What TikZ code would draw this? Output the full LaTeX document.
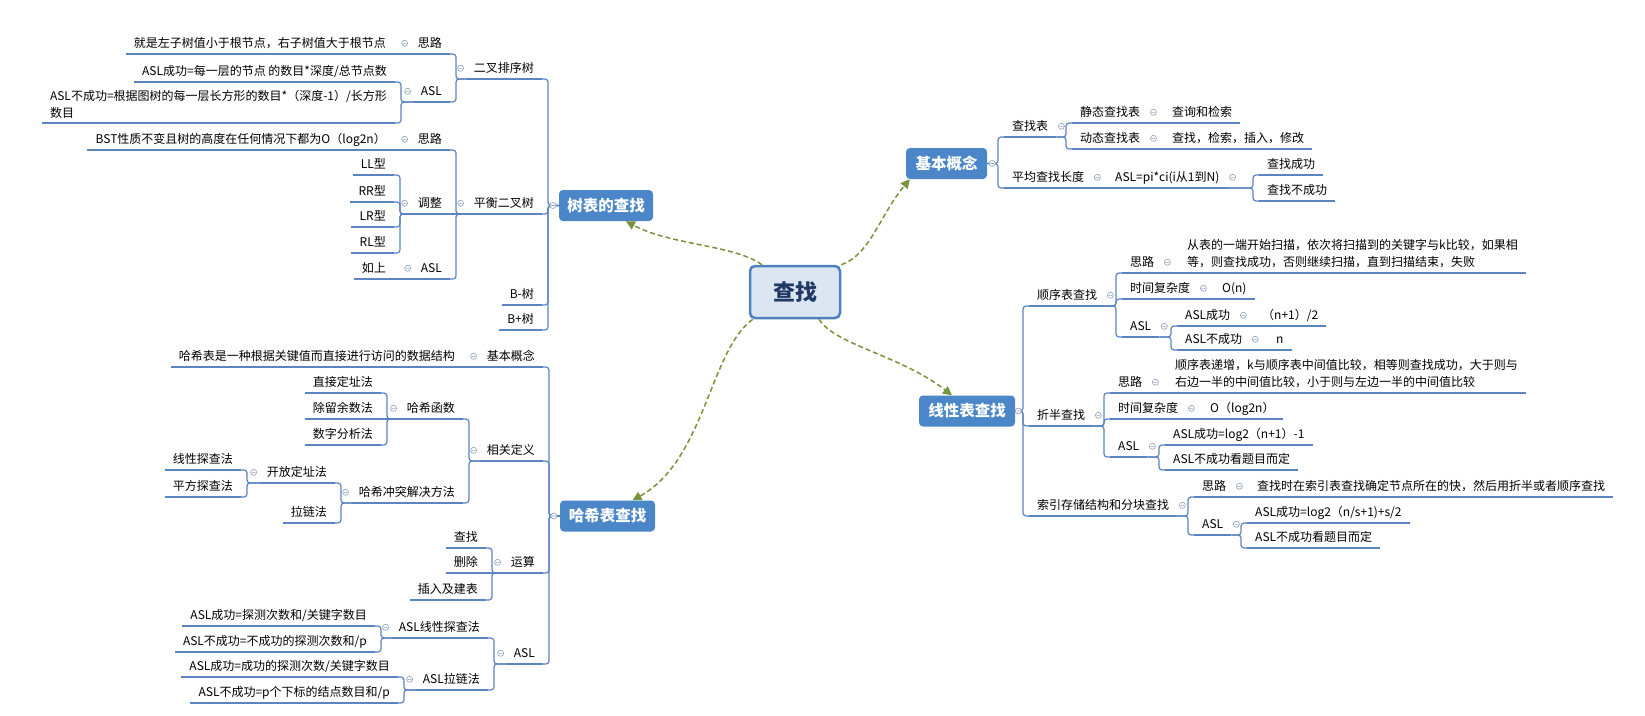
\documentclass[tikz,border=0pt]{standalone}
\usepackage{fontspec}
\setmainfont{Noto Sans CJK SC}
\usetikzlibrary{arrows.meta}
\definecolor{lineblue}{RGB}{92,132,194}
\definecolor{topicblue}{RGB}{74,134,200}
\definecolor{rootfill}{RGB}{220,230,242}
\definecolor{rootedge}{RGB}{79,129,189}
\definecolor{roottext}{RGB}{31,56,100}
\definecolor{linkgreen}{RGB}{119,147,60}
\definecolor{foldgrey}{RGB}{140,158,190}
\tikzset{
  leaf/.style={inner xsep=8pt, inner ysep=4.6pt, text height=10.4pt, text depth=1.4pt,
    font=\fontsize{12}{17}\selectfont,
    append after command={(\tikzlastnode.south west) edge[uline] (\tikzlastnode.south east)}},
  multi/.style={leaf, align=left, text height={}, text depth={}},
  lnode/.style={leaf, anchor=south east},
  rnode/.style={leaf, anchor=south west},
  uline/.style={draw=lineblue, line width=1.8pt},
  conn/.style={draw=lineblue, line width=1.2pt, rounded corners=3pt},
  topic/.style={fill=topicblue, rounded corners=4pt, text=white, inner sep=0pt,
    font=\fontsize{15.5}{18}\selectfont\bfseries, minimum height=31pt},
  root/.style={fill=rootfill, draw=rootedge, line width=2.5pt, rounded corners=5pt,
    text=roottext, font=\fontsize{22}{26}\selectfont\bfseries,
    minimum width=90pt, minimum height=52pt},
  link/.style={draw=linkgreen, line width=1.5pt, dash pattern=on 5pt off 3pt,
    -{Triangle[length=9pt,width=9pt]}},
  fold/.style={draw=foldgrey, fill=white, line width=0.6pt}
}
\newcommand\foldmark[1]{\filldraw[fold] (#1) circle (3pt) +(-1.7pt,0) -- +(1.7pt,0);}
\begin{document}
\begin{tikzpicture}[x=1pt, y=-1pt]
\fill[white] (0,0) rectangle (1645,715);
\useasboundingbox (0,0) rectangle (1645,715);

% centre and main topics
\node[root] (root) at (795,292) {查找};
\node[topic, minimum width=94pt] (tree) at (606,205.5) {树表的查找};
\node[topic, minimum width=95pt] (hash) at (607.5,516) {哈希表查找};
\node[topic, minimum width=81pt] (basic) at (946.5,163.5) {基本概念};
\node[topic, minimum width=96pt] (linear) at (967,411) {线性表查找};

\draw[link] ([xshift=-33pt]root.north) .. controls (735,245) and (670,245) .. ([xshift=20pt]tree.south);
\draw[link] (root.north east) .. controls (870,255) and (880,215) .. ([xshift=4pt]basic.south west);
\draw[link] ([xshift=24pt]root.south) .. controls (835,345) and (900,355) .. ([xshift=-15pt]linear.north);
\draw[link] ([xshift=4pt]root.south west) .. controls (710,350) and (705,460) .. ([xshift=25pt]hash.north);

% 树表的查找
\node[lnode] (t1) at (542,79) {二叉排序树};
\node[lnode] (t11) at (450,54) {思路};
\node[lnode] (t111) at (394,54) {就是左子树值小于根节点，右子树值大于根节点};
\node[lnode] (t12) at (450,102) {ASL};
\node[lnode] (t121) at (395,82) {ASL成功=每一层的节点 的数目*深度/总节点数};
\node[multi, anchor=south east] (t122) at (395,123) {ASL不成功=根据图树的每一层长方形的数目*（深度-1）/长方形\\数目};
\node[lnode] (t2) at (542,214) {平衡二叉树};
\node[lnode] (t21) at (450,150) {思路};
\node[lnode] (t211) at (394,150) {BST性质不变且树的高度在任何情况下都为O（log2n）};
\node[lnode] (t22) at (450,214) {调整};
\node[lnode] (t221) at (394,175) {LL型};
\node[lnode] (t222) at (394,202) {RR型};
\node[lnode] (t223) at (394,227) {LR型};
\node[lnode] (t224) at (394,253) {RL型};
\node[lnode] (t23) at (450,279) {ASL};
\node[lnode] (t231) at (394,279) {如上};
\node[lnode] (t3) at (542,305) {B-树};
\node[lnode] (t4) at (542,330) {B+树};

% 哈希表查找
\node[lnode] (h1) at (543,367) {基本概念};
\node[lnode] (h11) at (463,367) {哈希表是一种根据关键值而直接进行访问的数据结构};
\node[lnode] (h2) at (543,461) {相关定义};
\node[lnode] (h21) at (463,419) {哈希函数};
\node[lnode] (h211) at (381,393) {直接定址法};
\node[lnode] (h212) at (381,419) {除留余数法};
\node[lnode] (h213) at (381,445) {数字分析法};
\node[lnode] (h22) at (463,503) {哈希冲突解决方法};
\node[lnode] (h221) at (335,483) {开放定址法};
\node[lnode] (h2211) at (241,470) {线性探查法};
\node[lnode] (h2212) at (241,497) {平方探查法};
\node[lnode] (h222) at (335,523) {拉链法};
\node[lnode] (h3) at (543,573) {运算};
\node[lnode] (h31) at (486,548) {查找};
\node[lnode] (h32) at (486,573) {删除};
\node[lnode] (h33) at (486,600) {插入及建表};
\node[lnode] (h4) at (543,664) {ASL};
\node[lnode] (h41) at (488,638) {ASL线性探查法};
\node[lnode] (h411) at (375,626) {ASL成功=探测次数和/关键字数目};
\node[lnode] (h412) at (375,652) {ASL不成功=不成功的探测次数和/p};
\node[lnode] (h42) at (488,690) {ASL拉链法};
\node[lnode] (h421) at (398,677) {ASL成功=成功的探测次数/关键字数目};
\node[lnode] (h422) at (398,703) {ASL不成功=p个下标的结点数目和/p};

% 基本概念
\node[rnode] (b1) at (1004,137) {查找表};
\node[rnode] (b11) at (1072,123) {静态查找表};
\node[rnode] (b111) at (1164,123) {查询和检索};
\node[rnode] (b12) at (1072,149) {动态查找表};
\node[rnode] (b121) at (1164,149) {查找，检索，插入，修改};
\node[rnode] (b2) at (1004,188) {平均查找长度};
\node[rnode] (b21) at (1107,188) {ASL=pi*ci(i从1到N)};
\node[rnode] (b211) at (1259,175) {查找成功};
\node[rnode] (b212) at (1259,201) {查找不成功};

% 线性表查找
\node[rnode] (l1) at (1029,306) {顺序表查找};
\node[rnode] (l11) at (1122,273) {思路};
\node[multi, anchor=south west] (l111) at (1179,273) {从表的一端开始扫描，依次将扫描到的关键字与k比较，如果相\\等，则查找成功，否则继续扫描，直到扫描结束，失败};
\node[rnode] (l12) at (1122,299) {时间复杂度};
\node[rnode] (l121) at (1214,299) {O(n)};
\node[rnode] (l13) at (1122,337) {ASL};
\node[rnode] (l131) at (1177,326) {ASL成功};
\node[rnode] (l1311) at (1254,326) {（n+1）/2};
\node[rnode] (l132) at (1177,350) {ASL不成功};
\node[rnode] (l1321) at (1268,350) {n};
\node[rnode] (l2) at (1029,426) {折半查找};
\node[rnode] (l21) at (1110,393) {思路};
\node[multi, anchor=south west] (l211) at (1167,393) {顺序表递增，k与顺序表中间值比较，相等则查找成功，大于则与\\右边一半的中间值比较，小于则与左边一半的中间值比较};
\node[rnode] (l22) at (1110,419) {时间复杂度};
\node[rnode] (l221) at (1202,419) {O（log2n）};
\node[rnode] (l23) at (1110,457) {ASL};
\node[rnode] (l231) at (1165,445) {ASL成功=log2（n+1）-1};
\node[rnode] (l232) at (1165,470) {ASL不成功看题目而定};
\node[rnode] (l3) at (1029,516) {索引存储结构和分块查找};
\node[rnode] (l31) at (1194,497) {思路};
\node[rnode] (l311) at (1249,497) {查找时在索引表查找确定节点所在的快，然后用折半或者顺序查找};
\node[rnode] (l32) at (1194,535) {ASL};
\node[rnode] (l321) at (1247,523) {ASL成功=log2（n/s+1)+s/2};
\node[rnode] (l322) at (1247,548) {ASL不成功看题目而定};

% brackets, left side
\foreach \c in {t1,t2,t3,t4}
  \draw[conn] (tree.west) -| ([xshift=6pt]\c.south east) -- (\c.south east);
\foreach \c in {h1,h2,h3,h4}
  \draw[conn] (hash.west) -| ([xshift=6pt]\c.south east) -- (\c.south east);
\foreach \p/\c in {t1/t11,t1/t12,t12/t121,t12/t122,t2/t21,t2/t23,t22/t221,t22/t222,
    t22/t223,t22/t224,h2/h21,h2/h22,h21/h211,h21/h213,h22/h221,h22/h222,h221/h2211,
    h221/h2212,h3/h31,h3/h33,h4/h41,h4/h42,h41/h411,h41/h412,h42/h421,h42/h422}
  \draw[conn] (\p.south west) -| ([xshift=6pt]\c.south east) -- (\c.south east);
\foreach \p/\c in {t11/t111,t21/t211,t2/t22,t23/t231,h1/h11,h21/h212,h3/h32}
  \draw[conn] (\p.south west) -- (\c.south east);

% brackets, right side
\foreach \c in {b1,b2}
  \draw[conn] (basic.east) -| ([xshift=-6pt]\c.south west) -- (\c.south west);
\foreach \c in {l1,l2,l3}
  \draw[conn] (linear.east) -| ([xshift=-6pt]\c.south west) -- (\c.south west);
\foreach \p/\c in {b1/b11,b1/b12,b21/b211,b21/b212,l1/l11,l1/l12,l1/l13,l13/l131,
    l13/l132,l2/l21,l2/l22,l2/l23,l23/l231,l23/l232,l3/l31,l3/l32,l32/l321,l32/l322}
  \draw[conn] (\p.south east) -| ([xshift=-6pt]\c.south west) -- (\c.south west);
\foreach \p/\c in {b11/b111,b12/b121,b2/b21,l11/l111,l12/l121,l131/l1311,l132/l1321,
    l21/l211,l22/l221,l31/l311}
  \draw[conn] (\p.south east) -- (\c.south west);

% collapse marks
\foreach \p in {t1,t11,t12,t2,t21,t22,t23,h1,h2,h21,h22,h221,h3,h4,h41,h42}
  {\foldmark{[xshift=-5pt]\p.west}}
\foreach \p in {b1,b11,b12,b2,b21,l1,l11,l12,l13,l131,l132,l2,l21,l22,l23,l3,l31,l32}
  {\foldmark{[xshift=5pt]\p.east}}
\foldmark{[xshift=-6pt]tree.west}
\foldmark{[xshift=-6pt]hash.west}
\foldmark{[xshift=5pt]basic.east}
\foldmark{[xshift=3pt]linear.east}
\end{tikzpicture}
\end{document}
